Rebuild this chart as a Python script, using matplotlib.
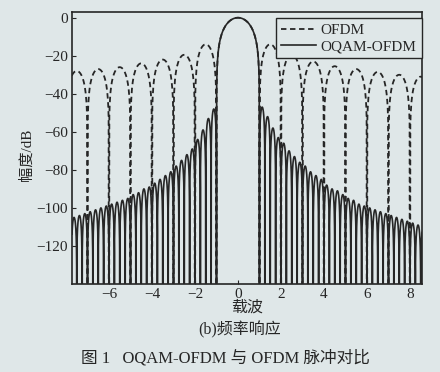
import numpy as np
import matplotlib
matplotlib.use('Agg')
import matplotlib.pyplot as plt

plt.rcParams['font.family'] = ['Liberation Serif', 'Noto Sans CJK SC']
plt.rcParams['axes.unicode_minus'] = True

# lobe peak levels (dB)
# OFDM: main lobe at 0 (half width 1), side lobes every 1 subcarrier
ofdm_centers = [-7.5, -6.5, -5.5, -4.5, -3.5, -2.5, -1.5, 0,
                1.5, 2.5, 3.5, 4.5, 5.5, 6.5, 7.5, 8.5]
ofdm_peaks = [-28, -27, -26, -24, -22, -19.5, -14, 0,
              -14, -19.5, -23, -25.5, -27, -28.5, -30, -31]

# OQAM-OFDM: main lobe at 0, side lobes every 1/4 subcarrier
oqam_left_peaks = [-48, -53, -59, -64, -69, -72, -75, -78, -81, -83, -85, -87,
                   -89, -90, -92, -93, -95, -96, -97, -98, -99, -100, -101,
                   -102, -103, -104, -105, -105]
oqam_right_peaks = [-47, -52, -58, -63, -66, -70, -73, -76, -78, -81, -83, -85,
                    -88, -90, -91, -93, -95, -96, -98, -99, -100, -101, -102,
                    -103, -104, -105, -106, -107, -108, -109, -110]

xticks = [-6, -4, -2, 0, 2, 4, 6, 8]
yticks = [0, -20, -40, -60, -80, -100, -120]


def lobe(c, h, peak, n=60):
    t = np.linspace(-1, 1, n)
    v = np.maximum(np.cos(np.pi * t / 2), 1e-12)
    return c + h * t, peak + 20 * np.log10(v)


def build(centers, widths, peaks):
    xs, ys = [], []
    for c, h, p in sorted(zip(centers, widths, peaks)):
        x, y = lobe(c, h, p, 200 if h >= 1 else 60)
        xs.append(x)
        ys.append(y)
    return np.concatenate(xs), np.concatenate(ys)


ofdm_w = [1.0 if c == 0 else 0.5 for c in ofdm_centers]
f_ofdm, h_ofdm = build(ofdm_centers, ofdm_w, ofdm_peaks)

oq_c = [0.0] + [-1.125 - 0.25 * i for i in range(len(oqam_left_peaks))] \
    + [1.125 + 0.25 * i for i in range(len(oqam_right_peaks))]
oq_w = [1.0] + [0.125] * (len(oqam_left_peaks) + len(oqam_right_peaks))
oq_p = [0.0] + oqam_left_peaks + oqam_right_peaks
f_oq, h_oq = build(oq_c, oq_w, oq_p)

bg = '#dfe7e8'
ink = '#262626'
fig = plt.figure(figsize=(4.4, 3.72), dpi=100, facecolor=bg)
ax = fig.add_axes([72 / 440, 1 - 284 / 372, 350 / 440, 272 / 372])
ax.set_facecolor(bg)

ax.plot(f_ofdm, h_ofdm, color=ink, lw=1.3, ls=(0, (3.0, 2.0)), label='OFDM')
ax.plot(f_oq, h_oq, color=ink, lw=1.2, label='OQAM-OFDM')

ax.set_xlim(-7.72, 8.56)
ax.set_ylim(-140, 3)
ax.set_xticks(xticks)
ax.set_yticks(yticks)
ax.tick_params(direction='in', length=3, labelsize=11, colors=ink, pad=3)
for s in ax.spines.values():
    s.set_color(ink)
    s.set_linewidth(1.2)

leg = ax.legend(loc='upper right', bbox_to_anchor=(1.0, 0.978), fontsize=11,
                frameon=True, fancybox=False, borderaxespad=0,
                handlelength=2.3, handletextpad=0.3, borderpad=0.35,
                labelspacing=0.15)
leg.get_frame().set_edgecolor(ink)
leg.get_frame().set_facecolor(bg)
leg.get_frame().set_alpha(1)
leg.get_frame().set_linewidth(1.0)
for t in leg.get_texts():
    t.set_color(ink)

fig.text(27 / 440, 1 - 155 / 372, '幅度/dB', rotation=90, ha='center',
         va='center', fontsize=11, color=ink)
fig.text(247 / 440, 1 - 308 / 372, '载波', ha='center', va='center',
         fontsize=11.5, color=ink)
fig.text(240 / 440, 1 - 330 / 372, '(b)频率响应', ha='center', va='center',
         fontsize=11.5, color=ink)
fig.text(225 / 440, 1 - 358 / 372, '图 1   OQAM-OFDM 与 OFDM 脉冲对比',
         ha='center', va='center', fontsize=12, color=ink)

fig.savefig('out.png', dpi=100, facecolor=bg)
